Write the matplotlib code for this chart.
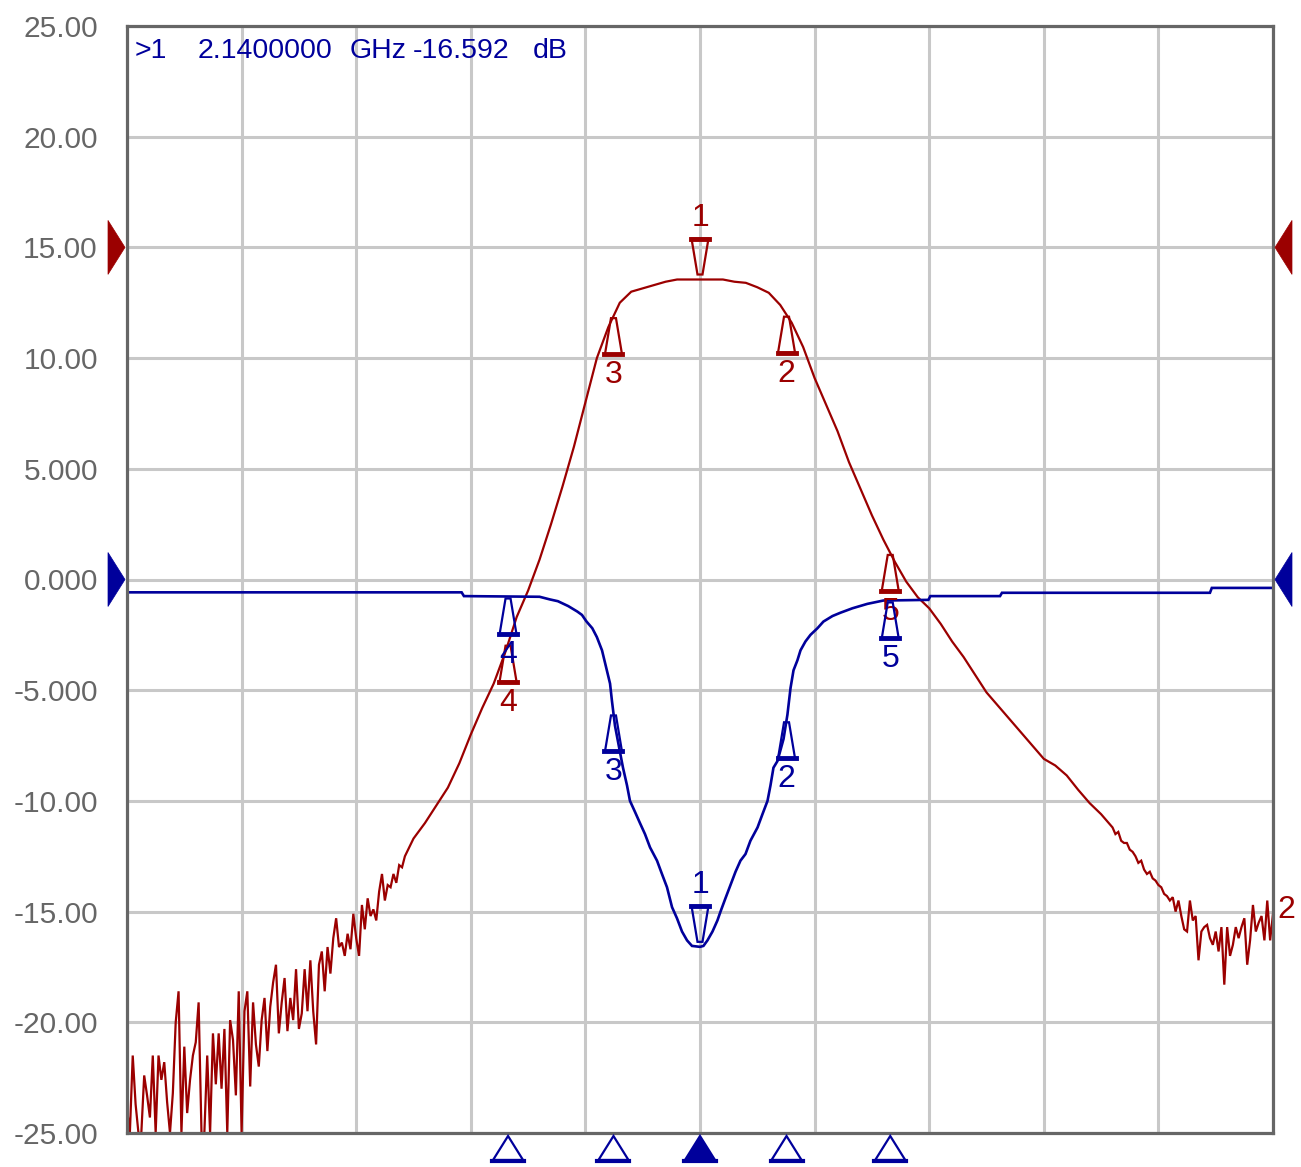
import numpy as np
import matplotlib
matplotlib.use("Agg")
import matplotlib.pyplot as plt
from matplotlib import font_manager as fm
from matplotlib.patches import Polygon
from matplotlib.lines import Line2D
import matplotlib.transforms as mtransforms

# ---------------- data ----------------
start_mhz, stop_mhz = 1640, 2640
x_div_mhz = 100
y_min, y_max = -25, 25
y_tick_values = [25, 20, 15, 10, 5, 0, -5, -10, -15, -20, -25]
y_tick_labels = ["25.00", "20.00", "15.00", "10.00", "5.000", "0.000",
                 "-5.000", "-10.00", "-15.00", "-20.00", "-25.00"]

# S21 (trace 2, red) - noisy low-frequency part, 2.5 MHz steps from 1640 MHz
s21_left_step_mhz = 2.5
s21_left_db = [
    -23.9, -25.0, -21.5, -23.7, -25.0, -25.0, -22.4, -23.3, -24.3, -21.5,
    -25.0, -21.5, -22.6, -21.8, -23.6, -25.0, -23.2, -20.0, -18.6, -25.0,
    -21.1, -24.1, -22.6, -21.5, -20.9, -19.1, -25.0, -25.0, -21.5, -25.0,
    -20.5, -22.8, -20.5, -23.0, -20.3, -25.0, -19.9, -20.8, -23.3, -18.6,
    -25.0, -19.5, -18.6, -22.9, -19.1, -21.0, -22.0, -19.9, -18.9, -21.3,
    -19.3, -18.2, -17.4, -20.5, -19.1, -18.0, -20.4, -18.9, -19.9, -17.6,
    -20.3, -19.6, -17.6, -19.5, -17.2, -19.5, -21.0, -17.4, -16.8, -18.6,
    -16.6, -17.8, -16.2, -15.3, -16.6, -16.4, -17.0, -16.0, -16.7, -15.1,
    -16.2, -17.0, -14.7, -15.8, -14.4, -15.2, -14.9, -15.4, -14.1, -13.3,
    -14.5, -13.8, -13.9, -13.3, -13.7, -12.9, -13.0, -12.5]
# S21 smooth pass-band part
s21_mid_mhz = [1890, 1900, 1910, 1920, 1930, 1940, 1950, 1960, 1970, 1980,
               1990, 2000, 2010, 2020, 2030, 2040, 2050, 2060, 2070, 2080,
               2090, 2100, 2110, 2120, 2140, 2160, 2170, 2180, 2190, 2200,
               2210, 2220, 2230, 2240, 2250, 2260, 2270, 2280, 2290, 2300,
               2310, 2320, 2330, 2340, 2350, 2360, 2370, 2380, 2390, 2400,
               2410, 2420, 2430, 2440, 2450, 2460, 2470, 2480, 2490]
s21_mid_db = [-11.7, -11.0, -10.2, -9.4, -8.3, -7.0, -5.8, -4.7, -3.3, -1.7,
              -0.5, 0.9, 2.5, 4.2, 6.0, 8.0, 10.0, 11.4, 12.5, 13.0,
              13.15, 13.3, 13.45, 13.55, 13.55, 13.55, 13.45, 13.4, 13.2, 12.95,
              12.4, 11.6, 10.5, 9.1, 7.9, 6.7, 5.3, 4.1, 2.9, 1.8,
              0.8, -0.1, -0.8, -1.3, -2.0, -2.8, -3.5, -4.3, -5.1, -5.7,
              -6.3, -6.9, -7.5, -8.1, -8.4, -8.85, -9.5, -10.1, -10.6]
# S21 noisy high-frequency part, 2.5 MHz steps from 2500 MHz
s21_right_start_mhz = 2500
s21_right_step_mhz = 2.5
s21_right_db = [
    -11.2, -11.5, -11.4, -11.8, -11.9, -11.9, -12.2, -12.3, -12.5, -12.8,
    -12.7, -13.1, -13.3, -13.2, -13.5, -13.6, -13.8, -13.9, -14.2, -14.3,
    -14.5, -14.35, -15.0, -14.5, -15.2, -15.8, -15.9, -14.5, -15.4, -15.2,
    -17.2, -15.9, -15.7, -15.6, -16.2, -16.5, -15.9, -16.8, -15.7, -18.3,
    -15.7, -17.0, -16.5, -15.7, -16.2, -15.7, -15.3, -17.4, -16.3, -14.7,
    -15.9, -15.5, -15.2, -16.3, -14.5, -16.3, -15.1]

# S11 (trace 1, blue)
s11_mhz = [1640, 1932, 1934, 2000, 2009, 2016, 2025, 2033, 2037, 2041,
           2046, 2050, 2054.5, 2058, 2061.5, 2063.2, 2065.8, 2070.2, 2072.8, 2076.3,
           2078.9, 2083.3, 2087.6, 2092, 2096.4, 2102.5, 2106.8, 2111.2, 2115.6, 2119.9,
           2124.3, 2128.7, 2133, 2140, 2143, 2146.5, 2150.9, 2155.2, 2157.9, 2162.2,
           2166.6, 2171, 2175.3, 2179.7, 2184, 2190.2, 2194.5, 2198.9, 2201.5, 2204.1,
           2207.6, 2212.9, 2216.3, 2219, 2221.6, 2225, 2227.7, 2232, 2236.4, 2242.5,
           2247.7, 2255.6, 2262.6, 2273, 2286.1, 2300, 2339.3, 2341, 2401.8, 2403.5,
           2585, 2586.6, 2640]
s11_db = [-0.58, -0.58, -0.75, -0.78, -0.9, -0.98, -1.2, -1.45, -1.6, -1.9,
          -2.2, -2.6, -3.2, -3.95, -4.7, -5.5, -6.6, -7.8, -8.5, -9.3,
          -10.0, -10.5, -11.0, -11.5, -12.1, -12.7, -13.3, -13.9, -14.8, -15.3,
          -15.9, -16.3, -16.55, -16.592, -16.55, -16.3, -15.9, -15.4, -15.0, -14.4,
          -13.8, -13.2, -12.7, -12.4, -11.8, -11.2, -10.6, -10.0, -9.3, -8.5,
          -8.2, -7.2, -6.1, -4.9, -4.1, -3.65, -3.2, -2.8, -2.5, -2.2,
          -1.9, -1.65, -1.5, -1.3, -1.1, -0.95, -0.92, -0.75, -0.75, -0.6,
          -0.6, -0.38, -0.38]

marker_ids = ["1", "2", "3", "4", "5"]
marker_mhz = [2140, 2215.5, 2064.5, 1972.5, 2306]
active_marker = "1"
active_readout_db = -16.592
s21_ref_db = 15
s11_ref_db = 0

# ---------------- styles ----------------
RED = "#9b0000"
BLUE = "#00009b"
GRID = "#c8c8c8"
FRAME = "#666666"


def has_font(name):
    try:
        fm.findfont(fm.FontProperties(family=name), fallback_to_default=False)
        return True
    except Exception:
        return False


FONT = "Liberation Sans" if has_font("Liberation Sans") else "DejaVu Sans"
plt.rcParams["font.family"] = [FONT, "DejaVu Sans"]

W, H = 1301, 1167
fig = plt.figure(figsize=(W / 100, H / 100), dpi=100)
fig.patch.set_facecolor("white")
ax = fig.add_axes([127 / W, 34 / H, 1146 / W, 1107 / H])

ax.set_xlim(start_mhz, stop_mhz)
ax.set_ylim(y_min, y_max)
ax.set_xticks(np.arange(start_mhz, stop_mhz + 1, x_div_mhz))
ax.set_xticklabels([])
ax.set_yticks(y_tick_values)
ax.set_yticklabels(y_tick_labels)
ax.tick_params(axis="both", length=0)
ax.tick_params(axis="y", pad=21, labelsize=21.5, labelcolor=FRAME)
ax.grid(True, color=GRID, linewidth=2.2, zorder=0)
ax.set_axisbelow(True)
for sp in ax.spines.values():
    sp.set_color(FRAME)
    sp.set_linewidth(2.3)
    sp.set_zorder(5)

# traces
s21_f = np.concatenate([start_mhz + s21_left_step_mhz * np.arange(len(s21_left_db)),
                        np.array(s21_mid_mhz, dtype=float),
                        s21_right_start_mhz + s21_right_step_mhz * np.arange(len(s21_right_db))])
s21_v = np.concatenate([s21_left_db, s21_mid_db, s21_right_db])
s11_f = np.array(s11_mhz, dtype=float)
s11_v = np.array(s11_db, dtype=float)

ax.plot(s21_f, s21_v, color=RED, lw=1.6, zorder=3, solid_joinstyle="miter")
ax.plot(s11_f, s11_v, color=BLUE, lw=1.9, zorder=3, solid_joinstyle="miter")


def px_at(xd, yd, base):
    return mtransforms.IdentityTransform() + mtransforms.ScaledTranslation(xd, yd, base)


MARKER_FS = 23


def draw_marker(fx, fy, label, color, down):
    h = 36
    if down:
        tip, base = 5, 5 + h
    else:
        tip, base = -2, -2 - h
    verts = [(-2.5, tip), (2.5, tip), (8.5, base), (-8.5, base)]
    tr = px_at(fx, fy, ax.transData)
    ax.add_patch(Polygon(verts, closed=True, fill=False, edgecolor=color,
                         lw=1.6, transform=tr, clip_on=False, zorder=6))
    ax.add_line(Line2D([-9, 9], [base, base], color=color, lw=3.5,
                       transform=tr, clip_on=False, zorder=6))
    ty = base + 6 if down else base - 6
    ax.text(0, ty, label, color=color, fontsize=MARKER_FS, ha="center",
            va="bottom" if down else "top", transform=tr, clip_on=False, zorder=6)


for mid, mf in zip(marker_ids, marker_mhz):
    is_active = mid == active_marker
    draw_marker(mf, float(np.interp(mf, s21_f, s21_v)), mid, RED, is_active)
    draw_marker(mf, float(np.interp(mf, s11_f, s11_v)), mid, BLUE, is_active)
    # stimulus markers below the graticule
    trb = px_at(mf, 0, ax.get_xaxis_transform())
    ax.add_patch(Polygon([(0, -3), (15, -27), (-15, -27)], closed=True,
                         fill=is_active, facecolor=BLUE, edgecolor=BLUE, lw=1.6,
                         transform=trb, clip_on=False, zorder=6))
    ax.add_line(Line2D([-16, 16], [-28, -28], color=BLUE, lw=3.0, transform=trb,
                       clip_on=False, zorder=6))

# reference level arrows
for ref, col in [(s21_ref_db, RED), (s11_ref_db, BLUE)]:
    trl = px_at(0, ref, ax.get_yaxis_transform())
    ax.add_patch(Polygon([(-2, 0), (-19, 27), (-19, -27)], closed=True,
                         facecolor=col, edgecolor=col, lw=0.5, transform=trl,
                         clip_on=False, zorder=6))
    trr = px_at(1, ref, ax.get_yaxis_transform())
    ax.add_patch(Polygon([(2, 0), (19, 27), (19, -27)], closed=True,
                         facecolor=col, edgecolor=col, lw=0.5, transform=trr,
                         clip_on=False, zorder=6))

# trace number at right end of trace 2
ax.text(1, s21_v[-1], "2", color=RED, fontsize=MARKER_FS, ha="left", va="center",
        transform=mtransforms.offset_copy(ax.get_yaxis_transform(), fig, x=4, y=4, units="dots"),
        clip_on=False, zorder=6)

# marker readout
readout_parts = [(8, ">" + active_marker),
                 (71, f"{marker_mhz[marker_ids.index(active_marker)] / 1000:.7f}"),
                 (223, "GHz"),
                 (286, f"{active_readout_db:.3f}"),
                 (406, "dB")]
for dx, txt in readout_parts:
    ax.text(0, 1, txt, color=BLUE, fontsize=20.5, ha="left", va="top",
            transform=mtransforms.offset_copy(ax.transAxes, fig, x=dx, y=-12, units="dots"),
            zorder=7)

fig.savefig("out.png", dpi=100, facecolor="white")
